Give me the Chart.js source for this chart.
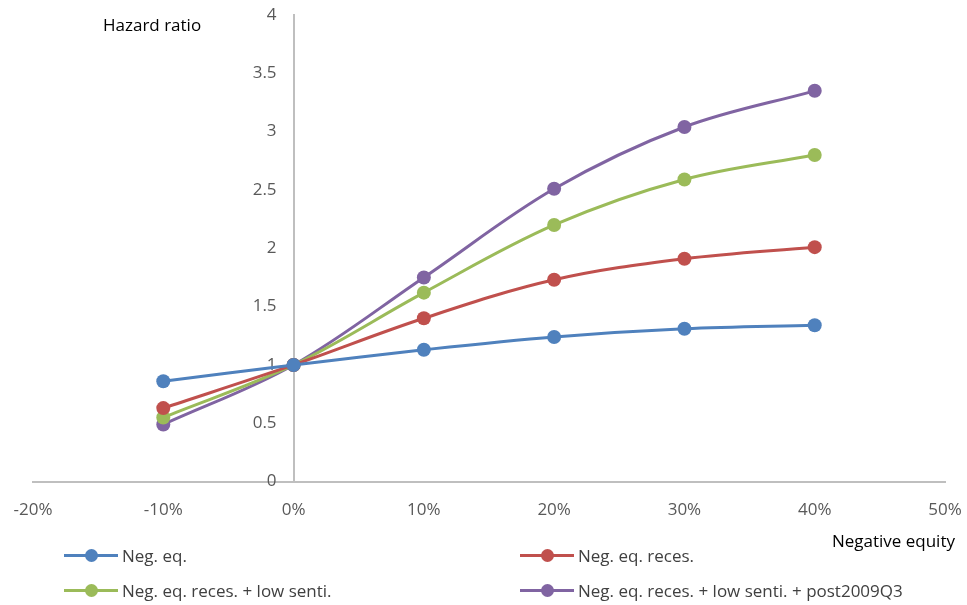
<!DOCTYPE html>
<html>
<head>
<meta charset="utf-8">
<script src="https://cdn.jsdelivr.net/npm/chart.js@4"></script>
<style>
  html, body { margin: 0; padding: 0; background: #fff; }
  #wrap { position: relative; width: 967px; height: 605px; font-family: 'Open Sans', sans-serif; }
  #chart { position: absolute; left: 0; top: 0; }
  .lbl { position: absolute; font-size: 17px; color: #000; white-space: nowrap; }
  #ytitle { left: 103px; top: 13px; }
  #xtitle { right: 12px; top: 529px; }
  .leg-item { position: absolute; font-size: 17px; color: #404040; white-space: nowrap; display: flex; align-items: center; height: 24px; }
  .leg-line { position: relative; width: 54px; height: 3px; margin-right: 4px; }
  .leg-dot { position: absolute; left: 21px; top: -5px; width: 13px; height: 13px; border-radius: 50%; }
</style>
</head>
<body>
<div id="wrap">
  <canvas id="chart" width="967" height="605"></canvas>
  <div class="lbl" id="ytitle">Hazard ratio</div>
  <div class="lbl" id="xtitle">Negative equity</div>
  <div id="legend"></div>
</div>
<script>
// negative equity, in percent
const negEquity = [-10, 0, 10, 20, 30, 40];

const seriesNames = [
  'Neg. eq.',
  'Neg. eq. reces.',
  'Neg. eq. reces. + low senti.',
  'Neg. eq. reces. + low senti. + post2009Q3'
];
const negEq          = [0.86, 1.0, 1.13, 1.24, 1.31, 1.34];
const negEqReces     = [0.63, 1.0, 1.40, 1.73, 1.91, 2.01];
const negEqLowSenti  = [0.55, 1.0, 1.62, 2.20, 2.59, 2.80];
const negEqPost2009  = [0.49, 1.0, 1.75, 2.51, 3.04, 3.35];
const colors = ['#4F81BD', '#C0504D', '#9BBB59', '#8064A2'];

const xMin = -20, xMax = 50, xStep = 10;
const yMin = 0, yMax = 4, yStep = 0.5;

const allSeries = [negEq, negEqReces, negEqLowSenti, negEqPost2009];

const datasets = allSeries.map((vals, i) => ({
  label: seriesNames[i],
  data: vals.map((v, j) => ({ x: negEquity[j], y: v })),
  borderColor: colors[i],
  backgroundColor: colors[i],
  borderWidth: 3,
  pointRadius: 7,
  pointBorderWidth: 0,
  tension: 0.35,
  fill: false
}));

const tickFont = { family: "'Open Sans', sans-serif", size: 17 };

new Chart(document.getElementById('chart'), {
  type: 'line',
  data: { datasets },
  options: {
    responsive: false,
    animation: false,
    layout: { padding: { left: 33, right: 22, top: 15, bottom: 85 } },
    plugins: { legend: { display: false }, tooltip: { enabled: false } },
    scales: {
      x: {
        type: 'linear',
        position: 'bottom',
        min: xMin, max: xMax,
        // tick marks hidden; tickLength only pushes the labels down
        grid: { display: false, drawTicks: true, tickLength: 18 },
        border: { display: true, color: '#BFBFBF', width: 2 },
        ticks: {
          stepSize: xStep,
          padding: 0,
          color: '#595959',
          font: tickFont,
          callback: v => v + '%'
        }
      },
      y: {
        position: { x: 0 },
        min: yMin, max: yMax,
        grid: { display: false, drawTicks: false },
        border: { display: true, color: '#BFBFBF', width: 2 },
        ticks: {
          stepSize: yStep,
          color: '#595959',
          font: tickFont,
          // labels sit right-aligned on the axis, so pad with spaces
          callback: v => v + '\u2002\u2002'
        }
      }
    }
  }
});

// legend, two columns
const legendPos = [[64, 555], [520, 555], [64, 590], [520, 590]];
const legend = document.getElementById('legend');
seriesNames.forEach((name, i) => {
  const item = document.createElement('div');
  item.className = 'leg-item';
  item.style.left = legendPos[i][0] + 'px';
  item.style.top = (legendPos[i][1] - 12) + 'px';
  item.innerHTML = `<span class="leg-line" style="background:${colors[i]}"><span class="leg-dot" style="background:${colors[i]}"></span></span>${name}`;
  legend.appendChild(item);
});
</script>
</body>
</html>
